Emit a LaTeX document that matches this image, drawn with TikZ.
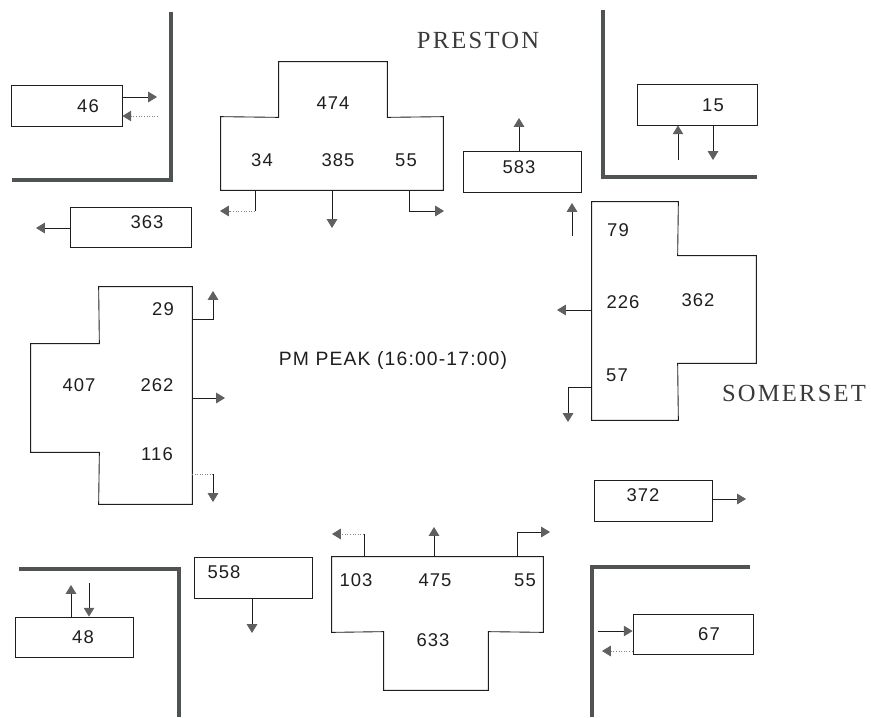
\documentclass[tikz,border=0pt]{standalone}
\usepackage{fontspec}
\setmainfont{Liberation Sans}
\newfontfamily\numfont[LetterSpace=6]{Liberation Sans}
\newfontfamily\streetfont[LetterSpace=9]{Liberation Serif}
\usetikzlibrary{arrows.meta,fit}
\definecolor{InkBlack}{HTML}{1E1E1E}
\definecolor{TipGray}{HTML}{5E625E}
\definecolor{WallGray}{HTML}{505450}
\definecolor{LabelGray}{HTML}{3A3A3A}

\begin{document}
\begin{tikzpicture}[x=0.02cm, y=-0.02cm,
  lane/.style={draw=InkBlack, line width=0.5pt, inner sep=0pt},
  part/.style={inner sep=0pt},
  num/.style={font=\numfont\fontsize{10.5}{12}\selectfont, text=InkBlack},
  street/.style={font=\streetfont\fontsize{14}{16}\selectfont, text=LabelGray},
  wall/.style={WallGray, line width=1.8pt},
  ln/.style={InkBlack, line width=0.5pt},
  arr/.style={-{Triangle[length=5pt, width=6pt, color=TipGray]}, InkBlack, line width=0.5pt},
  faint/.style={InkBlack!55, densely dotted}
]
\useasboundingbox (0,0) rectangle (871,717);

% kerbs at the four corners
\draw[wall] (171,12) -- (171,180) -- (12,180);
\draw[wall] (603,10) -- (603,177) -- (757,177);
\draw[wall] (19,569) -- (179,569) -- (179,717);
\draw[wall] (750,567) -- (592,567) -- (592,717);

% street names
\node[street] (preston) at (478,40) {PRESTON};
\node[street] (somerset) at (794,393) {SOMERSET};
\node[font=\numfont\fontsize{11}{13}\selectfont, text=InkBlack] (peak) at (393,360) {PM PEAK (16:00-17:00)};

% single lane boxes
\node[lane, fit={(11,85) (122,126)}] (b46) {};
\node[lane, fit={(70,207) (191,247)}] (b363) {};
\node[lane, fit={(463,151) (581,192)}] (b583) {};
\node[lane, fit={(637,84) (757,125)}] (b15) {};
\node[lane, fit={(194,557) (312,598)}] (b558) {};
\node[lane, fit={(15,617) (133,657)}] (b48) {};
\node[lane, fit={(594,480) (712,521)}] (b372) {};
\node[lane, fit={(633,614) (753,654)}] (b67) {};
\node[num] (n46) at (88,106) {46};
\node[num] (n363) at (147,222) {363};
\node[num] (n583) at (519,167) {583};
\node[num] (n15) at (713,105) {15};
\node[num] (n558) at (224,572) {558};
\node[num] (n48) at (83,637) {48};
\node[num] (n372) at (643,495) {372};
\node[num] (n67) at (709,634) {67};

% Preston approach
\node[part, fit={(279,62) (387,117)}] (nT) {};
\node[part, fit={(221,117) (443,190)}] (sT) {};
\draw[ln] (sT.south west) -- (sT.north west) -- (nT.south west) -- (nT.north west)
  -- (nT.north east) -- (nT.south east) -- (sT.north east) -- (sT.south east) -- cycle;
\node[num] (n474) at (333,103) {474};
\node[num] (n34) at (262,160) {34};
\node[num] (n385) at (338,160) {385};
\node[num] (n55t) at (406,160) {55};

% Somerset approach
\node[part, fit={(592,202) (678,420)}] (nR) {};
\node[part, fit={(678,256) (756,363)}] (eR) {};
\draw[ln] (nR.north west) -- (nR.north east) -- (eR.north west) -- (eR.north east)
  -- (eR.south east) -- (eR.south west) -- (nR.south east) -- (nR.south west) -- cycle;
\node[num] (n79) at (618,230) {79};
\node[num] (n226) at (623,302) {226};
\node[num] (n362) at (698,300) {362};
\node[num] (n57) at (617,375) {57};

% west approach
\node[part, fit={(31,344) (99,452)}] (wL) {};
\node[part, fit={(99,287) (192,504)}] (cL) {};
\draw[ln] (cL.north west) -- (cL.north east) -- (cL.south east) -- (cL.south west)
  -- (wL.south east) -- (wL.south west) -- (wL.north west) -- (wL.north east) -- cycle;
\node[num] (n29) at (163,309) {29};
\node[num] (n407) at (79,385) {407};
\node[num] (n262) at (157,385) {262};
\node[num] (n116) at (157,454) {116};

% south approach
\node[part, fit={(332,557) (543,632)}] (uB) {};
\node[part, fit={(384,632) (488,690)}] (dB) {};
\draw[ln] (uB.north west) -- (uB.north east) -- (uB.south east) -- (dB.north east)
  -- (dB.south east) -- (dB.south west) -- (dB.north west) -- (uB.south west) -- cycle;
\node[num] (n103) at (356,580) {103};
\node[num] (n475) at (435,580) {475};
\node[num] (n55b) at (525,580) {55};
\node[num] (n633) at (433,640) {633};

% turning arrows
\coordinate (o46) at (157,97);
\coordinate (i46) at (158,116);
\coordinate (o363) at (36,228);
\coordinate (c34) at (255,211);
\coordinate (o34) at (220,211);
\coordinate (o385) at (332,228);
\coordinate (o55t) at (444,211);
\coordinate (o583) at (519,118);
\coordinate (i15) at (678,160);
\coordinate (o15) at (713,160);
\coordinate (i79) at (572,236);
\coordinate (o79) at (572,203);
\coordinate (o226) at (557,310);
\coordinate (o57) at (568,422);
\coordinate (o29) at (213,291);
\coordinate (o262) at (225,398);
\coordinate (c116) at (213,474);
\coordinate (o116) at (213,502);
\coordinate (c103) at (364,534);
\coordinate (o103) at (332,534);
\coordinate (o475) at (434,527);
\coordinate (o55b) at (550,532);
\coordinate (o558) at (252,633);
\coordinate (o48) at (71,585);
\coordinate (i48) at (89,583);
\coordinate (o372) at (746,499);
\coordinate (i67) at (598,631);
\coordinate (o67) at (602,651);

\draw[arr] (b46.east |- 0,97) -- (o46);
\draw[arr, faint] (i46) -- (b46.east |- 0,116);
\draw[arr] (b363.west |- 0,228) -- (o363);
\draw[ln] (sT.south -| 255,0) -- (c34);
\draw[arr, faint] (c34) -- (o34);
\draw[arr] (sT.south -| 332,0) -- (o385);
\draw[arr] (sT.south -| 409,0) |- (o55t);
\draw[arr] (b583.north -| 519,0) -- (o583);
\draw[arr] (i15) -- (b15.south -| 678,0);
\draw[arr] (b15.south -| 713,0) -- (o15);
\draw[arr] (i79) -- (o79);
\draw[arr] (nR.west |- 0,310) -- (o226);
\draw[arr] (nR.west |- 0,387) -| (o57);
\draw[arr] (cL.east |- 0,319) -| (o29);
\draw[arr] (cL.east |- 0,398) -- (o262);
\draw[faint] (cL.east |- 0,474) -- (c116);
\draw[arr] (c116) -- (o116);
\draw[ln] (uB.north -| 364,0) -- (c103);
\draw[arr, faint] (c103) -- (o103);
\draw[arr] (uB.north -| 434,0) -- (o475);
\draw[arr] (uB.north -| 517,0) |- (o55b);
\draw[arr] (b558.south -| 252,0) -- (o558);
\draw[arr] (b48.north -| 71,0) -- (o48);
\draw[arr] (i48) -- (b48.north -| 89,0);
\draw[arr] (b372.east |- 0,499) -- (o372);
\draw[arr] (i67) -- (b67.west |- 0,631);
\draw[arr, faint] (b67.west |- 0,651) -- (o67);
\end{tikzpicture}
\end{document}
